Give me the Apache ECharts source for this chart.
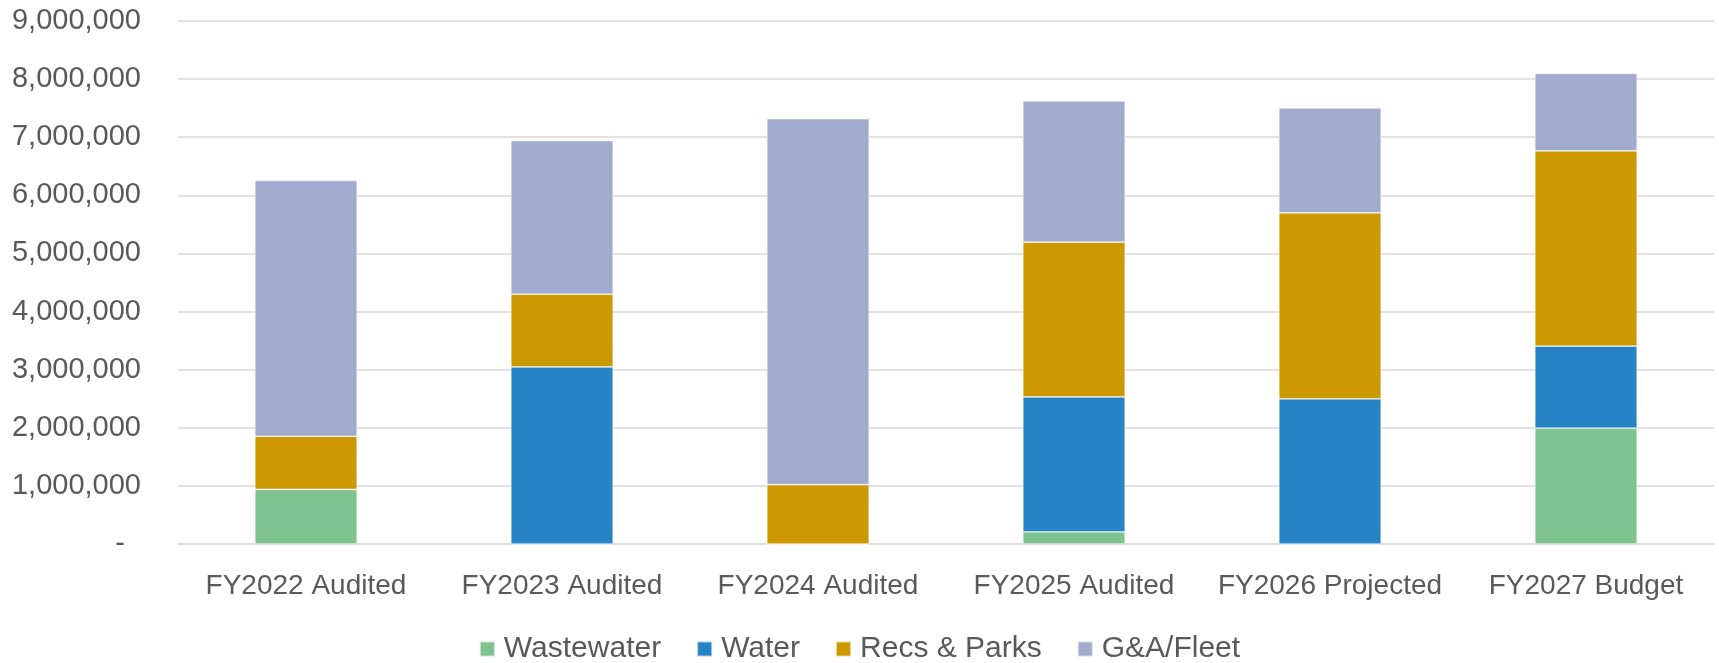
<!DOCTYPE html>
<html>
<head>
<meta charset="utf-8">
<script src="https://cdn.jsdelivr.net/npm/echarts@6/dist/echarts.min.js"></script>
<style>
  html, body { margin: 0; padding: 0; background: #fff; }
  #chart { width: 1719px; height: 663px; }
</style>
</head>
<body>
<div id="chart"></div>
<script>
// categories and series values
var categories = ['FY2022 Audited', 'FY2023 Audited', 'FY2024 Audited', 'FY2025 Audited', 'FY2026 Projected', 'FY2027 Budget'];
var wastewater = [940000, 0, 0, 210000, 0, 1996000];
var water = [0, 3046000, 0, 2320000, 2499000, 1411000];
var recsParks = [914000, 1252000, 1020000, 2663000, 3199000, 3359000];
var gaFleet = [4402000, 2645000, 6298000, 2431000, 1805000, 1332000];

var textColor = '#595959';
var fontFamily = '"Liberation Sans", Arial, sans-serif';

var myChart = echarts.init(document.getElementById('chart'));

function bar (name, data, color) {
    return {
        name: name,
        type: 'bar',
        stack: 'total',
        barWidth: '40%',
        itemStyle: { color: color, borderColor: 'rgba(255,255,255,0.6)', borderWidth: 0.75 },
        data: data
    };
}

myChart.setOption({
    animation: false,
    textStyle: { fontFamily: fontFamily },
    grid: { left: 178, right: 5, top: 21, bottom: 119, containLabel: false },
    legend: {
        data: ['Wastewater', 'Water', 'Recs & Parks', 'G&A/Fleet'],
        top: 629,
        left: 'center',
        itemWidth: 15,
        itemHeight: 15,
        itemGap: 35,
        icon: 'rect',
        textStyle: { color: textColor, fontSize: 30, fontFamily: fontFamily, padding: [0, 0, 0, 4] }
    },
    xAxis: {
        type: 'category',
        data: categories,
        axisLine: { show: true, lineStyle: { color: '#d9d9d9', width: 1.5 } },
        axisTick: { show: false },
        axisLabel: { color: textColor, fontSize: 28, margin: 28, fontFamily: fontFamily, interval: 0 }
    },
    yAxis: {
        type: 'value',
        min: 0,
        max: 9000000,
        interval: 1000000,
        axisLine: { show: false },
        axisTick: { show: false },
        splitLine: { lineStyle: { color: '#d9d9d9', width: 1.5 } },
        axisLabel: {
            color: textColor,
            fontSize: 29,
            margin: 37,
            fontFamily: fontFamily,
            formatter: function (v) {
                if (v === 0) return '-  ';
                return v.toLocaleString('en-US');
            }
        }
    },
    series: [
        bar('Wastewater', wastewater, '#7fc391'),
        bar('Water', water, '#2683c6'),
        bar('Recs & Parks', recsParks, '#cc9900'),
        bar('G&A/Fleet', gaFleet, '#a1abce')
    ]
});
</script>
</body>
</html>
